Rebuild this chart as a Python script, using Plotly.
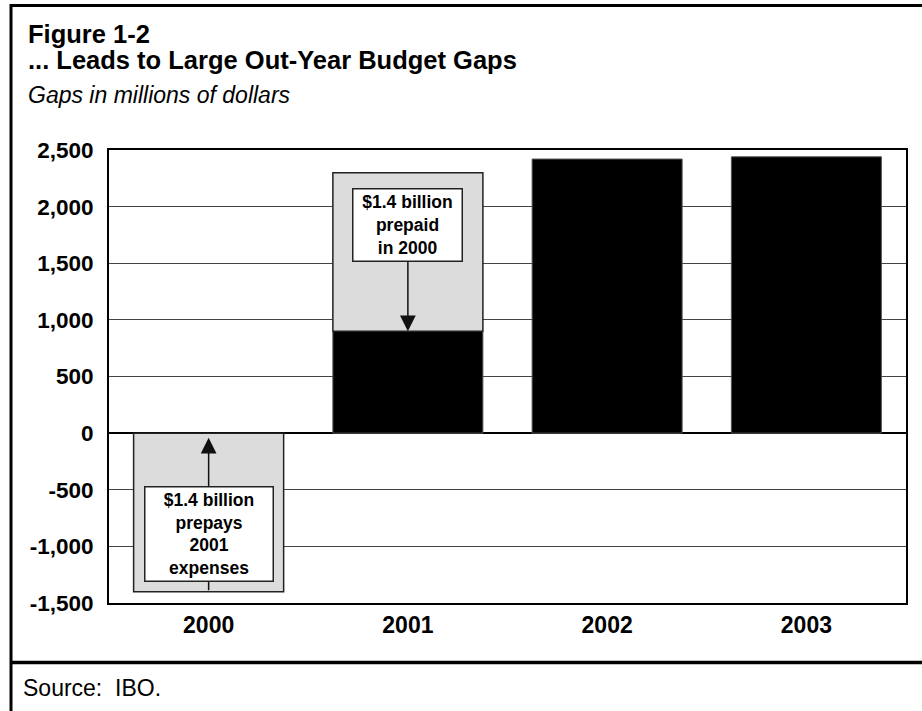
import plotly.graph_objects as go

# ---- data ----
years = ["2000", "2001", "2002", "2003"]
gap = [None, 900, 2420, 2440]            # remaining budget gap (black)
prepaid = [-1400, 1400, None, None]      # prepayment shifting (gray)
y_ticks = [-1500, -1000, -500, 0, 500, 1000, 1500, 2000, 2500]
y_tick_labels = [f"{v:,}" for v in y_ticks]

title1 = "Figure 1-2"
title2 = "... Leads to Large Out-Year Budget Gaps"
subtitle = "Gaps in millions of dollars"
source = "Source:  IBO."
note_2000 = "$1.4 billion<br>prepays<br>2001<br>expenses"
note_2001 = "$1.4 billion<br>prepaid<br>in 2000"

W, H = 922, 711
L, R, T, B = 109, 906, 150, 603
FONT = "Arial, Liberation Sans, sans-serif"


def px2x(px):
    return (px - L) / (R - L)


def px2y(py):
    return (B - py) / (B - T)


base_prepaid = [0 if p is not None and p < 0 else (g if g is not None else 0)
                for p, g in zip(prepaid, gap)]

fig = go.Figure()
fig.add_trace(go.Bar(
    x=list(range(len(years))), y=gap, name="Gap",
    marker=dict(color="#000000", line=dict(color="#555555", width=1)),
    width=0.753,
))
fig.add_trace(go.Bar(
    x=list(range(len(years))), y=prepaid, base=base_prepaid, name="Prepaid",
    marker=dict(color="#dcdcdc", line=dict(color="#222222", width=1.5)),
    width=0.753,
))

annotations = []
# arrows
annotations.append(dict(
    x=0, y=-41, ax=0, ay=prepaid[0], xref="x", yref="y", axref="x", ayref="y",
    text="", showarrow=True, arrowhead=2, arrowsize=2.1, arrowwidth=1.5,
    arrowcolor="#111111", standoff=0, startstandoff=0,
))
annotations.append(dict(
    x=1, y=gap[1], ax=1, ay=1838, xref="x", yref="y", axref="x", ayref="y",
    text="", showarrow=True, arrowhead=2, arrowsize=2.1, arrowwidth=1.5,
    arrowcolor="#111111", standoff=0, startstandoff=0,
))
# boxes
annotations.append(dict(
    x=0, y=-889, xref="x", yref="y", text=note_2000, showarrow=False,
    font=dict(family=FONT, size=17.5, color="#000", weight="bold"),
    bgcolor="#ffffff", bordercolor="#222222", borderwidth=1.5, borderpad=0,
    width=127, height=93, align="center", valign="middle",
))
annotations.append(dict(
    x=1, y=1838, xref="x", yref="y", text=note_2001, showarrow=False,
    font=dict(family=FONT, size=17.5, color="#000", weight="bold"),
    bgcolor="#ffffff", bordercolor="#222222", borderwidth=1.5, borderpad=0,
    width=108, height=71, align="center", valign="middle",
))
# titles
annotations.append(dict(
    x=px2x(26), y=px2y(34), xref="paper", yref="paper", xanchor="left", yanchor="middle",
    text=title1, showarrow=False,
    font=dict(family=FONT, size=25.5, color="#000", weight="bold"),
))
annotations.append(dict(
    x=px2x(26), y=px2y(60), xref="paper", yref="paper", xanchor="left", yanchor="middle",
    text=title2, showarrow=False,
    font=dict(family=FONT, size=25.5, color="#000", weight="bold"),
))
annotations.append(dict(
    x=px2x(26), y=px2y(95), xref="paper", yref="paper", xanchor="left", yanchor="middle",
    text="<i>" + subtitle + "</i>", showarrow=False,
    font=dict(family=FONT, size=23, color="#000"),
))
annotations.append(dict(
    x=px2x(21), y=px2y(688), xref="paper", yref="paper", xanchor="left", yanchor="middle",
    text=source, showarrow=False,
    font=dict(family=FONT, size=23, color="#000"),
))

shapes = [
    dict(type="line", xref="paper", yref="paper", x0=px2x(11), x1=px2x(11),
         y0=px2y(4), y1=px2y(712), line=dict(color="#000", width=3)),
    dict(type="line", xref="paper", yref="paper", x0=px2x(10), x1=px2x(923),
         y0=px2y(5.5), y1=px2y(5.5), line=dict(color="#000", width=3)),
    dict(type="line", xref="paper", yref="paper", x0=px2x(10), x1=px2x(923),
         y0=px2y(662.5), y1=px2y(662.5), line=dict(color="#000", width=3.5)),
]

fig.update_layout(
    width=W, height=H, autosize=False,
    margin=dict(l=L, r=W - R, t=T, b=H - B, pad=0),
    paper_bgcolor="#ffffff", plot_bgcolor="#ffffff",
    barmode="overlay", showlegend=False,
    font=dict(family=FONT, color="#000"),
    annotations=annotations, shapes=shapes,
    xaxis=dict(
        range=[-0.5, 3.5], tickmode="array", tickvals=list(range(len(years))),
        ticktext=years, showgrid=False, zeroline=False,
        showline=True, mirror=True, linecolor="#000", linewidth=2,
        ticks="", ticklabelstandoff=0,
        tickfont=dict(family=FONT, size=23, color="#000", weight="bold"),
    ),
    yaxis=dict(
        range=[-1500, 2500], tickmode="array", tickvals=y_ticks,
        ticktext=y_tick_labels, showgrid=True, gridcolor="#444444", gridwidth=1,
        zeroline=True, zerolinecolor="#000", zerolinewidth=1.5,
        showline=True, mirror=True, linecolor="#000", linewidth=2,
        ticks="", ticklabelstandoff=9,
        tickfont=dict(family=FONT, size=22.5, color="#000", weight="bold"),
    ),
)

fig.write_html("out.html")
